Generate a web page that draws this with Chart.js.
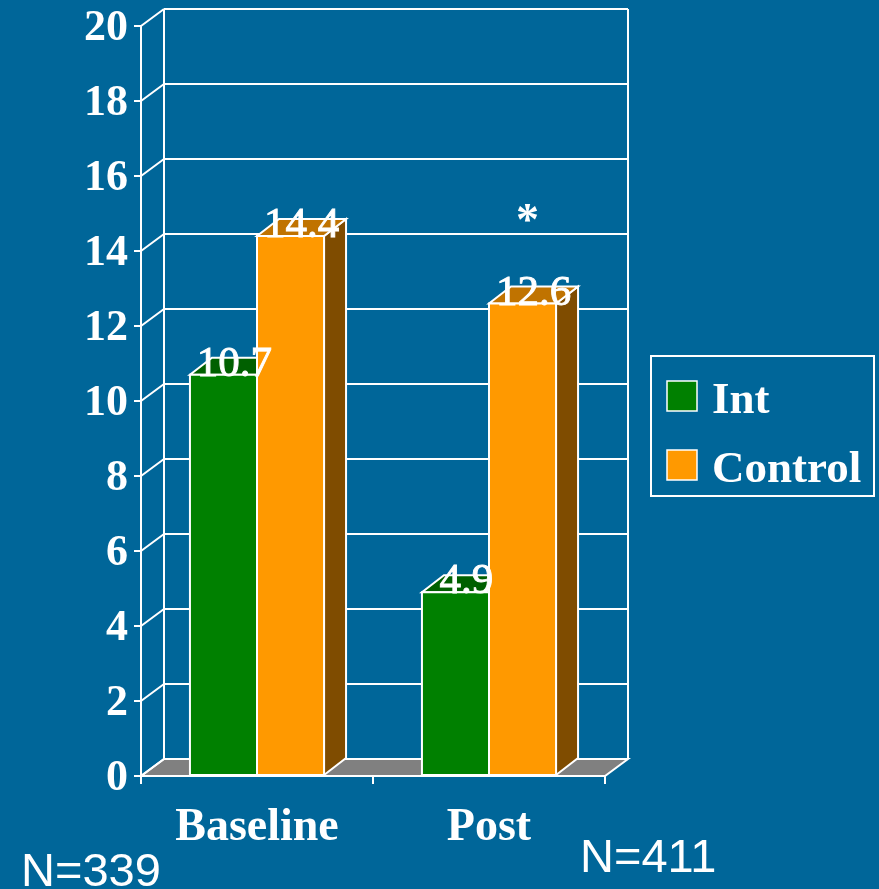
<!DOCTYPE html>
<html>
<head>
<meta charset="utf-8">
<style>
  html, body { margin: 0; padding: 0; background: #006699; }
  #wrap { width: 879px; height: 889px; }
  canvas { display: block; }
</style>
<script src="https://cdn.jsdelivr.net/npm/chart.js@4/dist/chart.umd.min.js"></script>
</head>
<body>
<div id="wrap"><canvas id="chart" width="879" height="889"></canvas></div>
<script>
// Data
const categories = ['Baseline', 'Post'];
const seriesNames = ['Int', 'Control'];
const intValues = [10.7, 4.9];
const controlValues = [14.4, 12.6];
const yTickLabels = ['0', '2', '4', '6', '8', '10', '12', '14', '16', '18', '20'];
const sampleSizes = ['N=339', 'N=411'];
const significance = ['', '*'];

// Palette
const BG = '#006699';
const faceColors = ['#008000', '#FF9900'];
const topColors = ['#006000', '#C07300'];
const sideColors = ['#004000', '#7F4C00'];
const FLOOR = '#808080';
const WHITE = '#FFFFFF';

// Depth of the pseudo-3D projection
const WALL_DX = 23, WALL_DY = 17;
const BAR_DX = 22, BAR_DY = 17;

function poly(ctx, pts, fill, stroke, lw) {
  ctx.beginPath();
  ctx.moveTo(pts[0][0], pts[0][1]);
  for (let i = 1; i < pts.length; i++) ctx.lineTo(pts[i][0], pts[i][1]);
  ctx.closePath();
  if (fill) { ctx.fillStyle = fill; ctx.fill(); }
  if (stroke) { ctx.strokeStyle = stroke; ctx.lineWidth = lw || 2; ctx.stroke(); }
}

const depthPlugin = {
  id: 'depth3d',
  beforeDraw(chart) {
    const ctx = chart.ctx;
    ctx.save();
    ctx.fillStyle = BG;
    ctx.fillRect(0, 0, chart.width, chart.height);
    ctx.restore();
  },
  beforeDatasetsDraw(chart) {
    const ctx = chart.ctx;
    const y = chart.scales.y;
    const { left, right } = chart.chartArea;
    const y0 = y.getPixelForValue(0);
    const yMax = y.getPixelForValue(y.max);
    ctx.save();
    // floor
    poly(ctx, [[left, y0], [right, y0], [right + WALL_DX, y0 - WALL_DY], [left + WALL_DX, y0 - WALL_DY]], FLOOR, WHITE, 2);
    ctx.strokeStyle = WHITE;
    ctx.lineWidth = 2;
    ctx.beginPath();
    // back wall edges
    ctx.moveTo(left + WALL_DX, y0 - WALL_DY); ctx.lineTo(left + WALL_DX, yMax - WALL_DY);
    ctx.moveTo(right + WALL_DX, y0 - WALL_DY); ctx.lineTo(right + WALL_DX, yMax - WALL_DY);
    // gridlines on the back wall plus connectors to the front axis
    y.ticks.forEach(t => {
      const py = y.getPixelForValue(t.value);
      ctx.moveTo(left, py); ctx.lineTo(left + WALL_DX, py - WALL_DY);
      if (t.value > 0) {
        ctx.moveTo(left + WALL_DX, py - WALL_DY); ctx.lineTo(right + WALL_DX, py - WALL_DY);
      }
    });
    ctx.stroke();
    ctx.restore();
  },
  beforeDatasetDraw() {
    // bars are drawn as prisms in afterDatasetsDraw
    return false;
  },
  afterDatasetsDraw(chart) {
    const ctx = chart.ctx;
    const metas = chart.data.datasets.map((d, i) => chart.getDatasetMeta(i));
    ctx.save();
    ctx.lineJoin = 'miter';
    for (let c = 0; c < categories.length; c++) {
      metas.forEach((meta, di) => {
        const el = meta.data[c];
        const p = el.getProps(['x', 'y', 'base', 'width'], true);
        const l = p.x - p.width / 2, r = p.x + p.width / 2, t = p.y, b = p.base;
        poly(ctx, [[r, t], [r + BAR_DX, t - BAR_DY], [r + BAR_DX, b - BAR_DY], [r, b]], sideColors[di], WHITE, 2);
        poly(ctx, [[l, t], [r, t], [r + BAR_DX, t - BAR_DY], [l + BAR_DX, t - BAR_DY]], topColors[di], WHITE, 2);
        poly(ctx, [[l, t], [r, t], [r, b], [l, b]], faceColors[di], WHITE, 2);
      });
    }
    ctx.restore();
  },
  afterDraw(chart) {
    const ctx = chart.ctx;
    ctx.save();
    ctx.fillStyle = WHITE;
    ctx.strokeStyle = WHITE;
    // value labels
    ctx.font = '43px "Liberation Serif", serif';
    ctx.textAlign = 'center';
    ctx.textBaseline = 'alphabetic';
    ctx.lineWidth = 0.9;
    chart.data.datasets.forEach((ds, di) => {
      const meta = chart.getDatasetMeta(di);
      meta.data.forEach((el, i) => {
        const p = el.getProps(['x', 'y'], true);
        const txt = ds.data[i].toFixed(1);
        ctx.fillText(txt, p.x + BAR_DX / 2, p.y + 1);
        ctx.strokeText(txt, p.x + BAR_DX / 2, p.y + 1);
      });
    });
    // significance markers above the control bars
    const cMeta = chart.getDatasetMeta(1);
    ctx.font = 'bold 46px "Liberation Serif", serif';
    significance.forEach((s, i) => {
      if (!s) return;
      const p = cMeta.data[i].getProps(['x', 'y'], true);
      ctx.fillText(s, p.x + 5, p.y - 69);
    });

    // legend
    const lx = 651, ly = 356, lw = 223, lh = 140;
    ctx.lineWidth = 2;
    ctx.strokeRect(lx, ly, lw, lh);
    ctx.font = 'bold 45px "Liberation Serif", serif';
    ctx.textAlign = 'left';
    seriesNames.forEach((name, i) => {
      const sy = 381 + i * 69;
      ctx.fillStyle = faceColors[i];
      ctx.fillRect(667, sy, 30, 30);
      ctx.strokeStyle = WHITE;
      ctx.lineWidth = 1.5;
      ctx.strokeRect(667, sy, 30, 30);
      ctx.fillStyle = WHITE;
      ctx.fillText(name, 712, sy + 32);
    });

    // sample sizes
    ctx.font = '47px "Liberation Sans", sans-serif';
    ctx.fillText(sampleSizes[0], 21, 886);
    ctx.fillText(sampleSizes[1], 580, 872);
    ctx.restore();
  }
};

new Chart(document.getElementById('chart'), {
  type: 'bar',
  data: {
    labels: categories,
    datasets: [
      { label: seriesNames[0], data: intValues, backgroundColor: faceColors[0], borderColor: WHITE, borderWidth: 2 },
      { label: seriesNames[1], data: controlValues, backgroundColor: faceColors[1], borderColor: WHITE, borderWidth: 2 }
    ]
  },
  options: {
    responsive: false,
    animation: false,
    devicePixelRatio: 1,
    categoryPercentage: 0.578,
    barPercentage: 1.0,
    layout: { padding: { top: 26, right: 274, left: 0, bottom: 0 } },
    plugins: { legend: { display: false }, tooltip: { enabled: false } },
    scales: {
      x: {
        ticks: {
          color: WHITE,
          font: { family: '"Liberation Serif", serif', size: 46, weight: 'bold' },
          padding: 17,
          maxRotation: 0
        },
        grid: { drawOnChartArea: false, color: WHITE, lineWidth: 2, tickLength: 8, offset: true },
        border: { color: WHITE, width: 2 },
        afterFit(s) { s.height = 113; }
      },
      y: {
        min: 0,
        max: 20,
        ticks: {
          stepSize: 2,
          color: WHITE,
          font: { family: '"Liberation Serif", serif', size: 44, weight: 'bold', lineHeight: 0.9 },
          padding: 6,
          labelOffset: 3,
          callback: (v, i) => yTickLabels[i]
        },
        grid: { drawOnChartArea: false, color: WHITE, lineWidth: 2, tickLength: 7 },
        border: { color: WHITE, width: 2 },
        afterFit(s) { s.width = 141; }
      }
    }
  },
  plugins: [depthPlugin]
});
</script>
</body>
</html>
